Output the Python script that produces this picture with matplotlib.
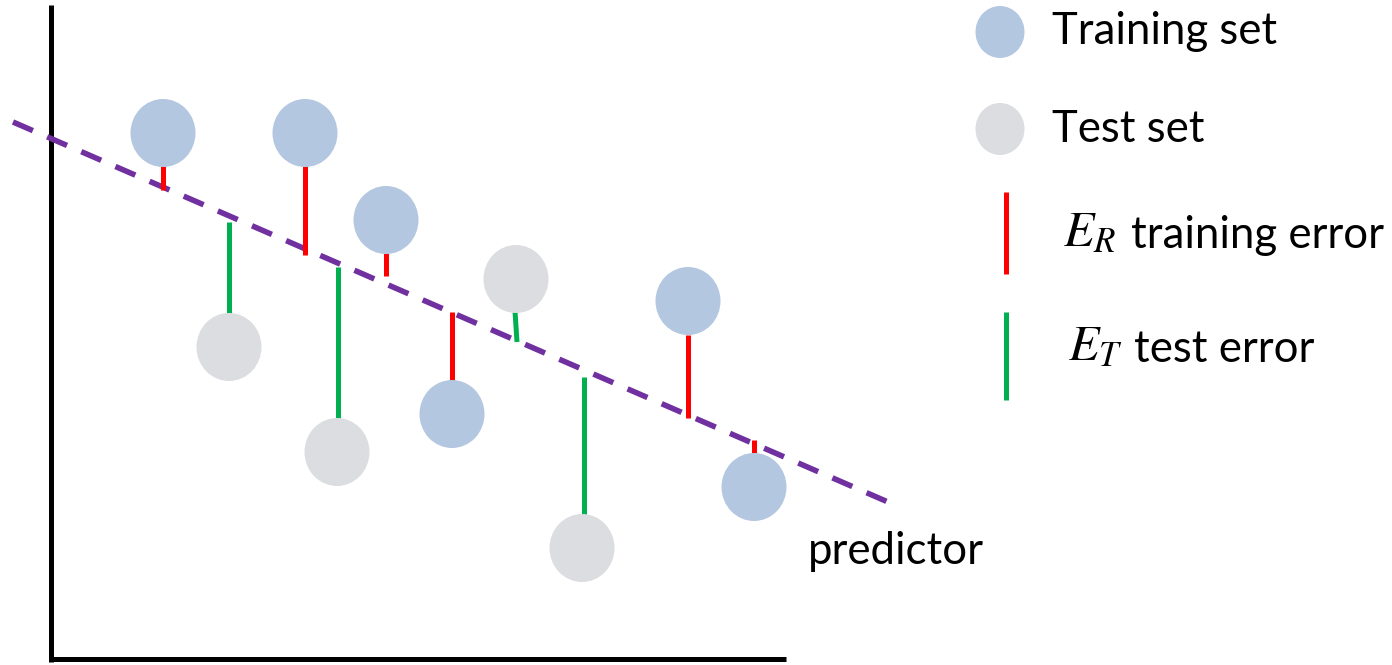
import matplotlib
matplotlib.use("Agg")
import matplotlib.pyplot as plt
from matplotlib.patches import Ellipse

# ---- data (pixel-space coordinates) ----
train_x = [163, 305, 386, 452, 688, 754]
train_y = [133, 133, 220, 414, 301, 487]
test_x = [229, 337, 516, 582]
test_y = [347, 452, 279, 548]

# error segments (start / end)
train_err_x = [163, 305, 386, 452, 688, 754]
train_err_y0 = [166, 166, 253, 312, 335, 440]
train_err_y1 = [190, 255, 276, 381, 418, 453]
test_err_x0 = [229, 338, 515, 584]
test_err_x1 = [229, 338, 517, 584]
test_err_y0 = [222, 267, 311, 377]
test_err_y1 = [313, 418, 342, 515]

# predictor line endpoints
pred_x = [13, 888]
pred_y = [122, 502]

legend_labels = ["Training set", "Test set", "training error", "test error"]
legend_symbols = [r"$E_R$", r"$E_T$"]
axis_label = "predictor"

# ---- style ----
BLUE = "#B4C7E0"
GRAY = "#DCDDE0"
RED = "#FF0000"
GREEN = "#00B050"
PURPLE = "#7030A0"

plt.rcParams["font.family"] = ["Lato", "DejaVu Sans"]
plt.rcParams["mathtext.fontset"] = "stix"

fig = plt.figure(figsize=(13.92, 6.65), dpi=100)
ax = fig.add_axes([0, 0, 1, 1])
ax.set_xlim(0, 1392)
ax.set_ylim(665, 0)
ax.axis("off")

# axes lines
ax.plot([51, 51], [5, 662], color="black", lw=3.6, solid_capstyle="butt", zorder=1)
ax.plot([49, 786], [659, 659], color="black", lw=3.6, solid_capstyle="butt", zorder=1)

# predictor line
ax.plot(pred_x, pred_y, color=PURPLE, lw=4, dashes=(3.9, 2.8), solid_capstyle="butt",
        dash_capstyle="butt", zorder=2)

# error segments
for x, y0, y1 in zip(train_err_x, train_err_y0, train_err_y1):
    ax.plot([x, x], [y0, y1], color=RED, lw=3.6, solid_capstyle="butt", zorder=3)
for x0, x1, y0, y1 in zip(test_err_x0, test_err_x1, test_err_y0, test_err_y1):
    ax.plot([x0, x1], [y0, y1], color=GREEN, lw=3.6, solid_capstyle="butt", zorder=3)

# points
for x, y in zip(train_x, train_y):
    ax.add_patch(Ellipse((x, y), 65, 68, facecolor=BLUE, edgecolor="none", zorder=4))
for x, y in zip(test_x, test_y):
    ax.add_patch(Ellipse((x, y), 65, 68, facecolor=GRAY, edgecolor="none", zorder=4))

# legend
ax.add_patch(Ellipse((1000, 32), 49, 52, facecolor=BLUE, edgecolor="none"))
ax.add_patch(Ellipse((1000, 129), 49, 52, facecolor=GRAY, edgecolor="none"))
ax.plot([1006, 1006], [192, 274], color=RED, lw=3.6, solid_capstyle="butt")
ax.plot([1006, 1006], [312, 400], color=GREEN, lw=3.6, solid_capstyle="butt")

fs = 31.5
ax.text(1052, 32, legend_labels[0], fontsize=fs, va="center", ha="left")
ax.text(1052, 129, legend_labels[1], fontsize=fs, va="center", ha="left")
ax.text(1063, 246, legend_symbols[0], fontsize=36, va="baseline", ha="left")
ax.text(1131, 236, legend_labels[2], fontsize=fs, va="center", ha="left")
ax.text(1068, 360, legend_symbols[1], fontsize=36, va="baseline", ha="left")
ax.text(1134, 350, legend_labels[3], fontsize=fs, va="center", ha="left")
ax.text(808, 551, axis_label, fontsize=fs, va="center", ha="left")

fig.savefig("out.png", dpi=100)
